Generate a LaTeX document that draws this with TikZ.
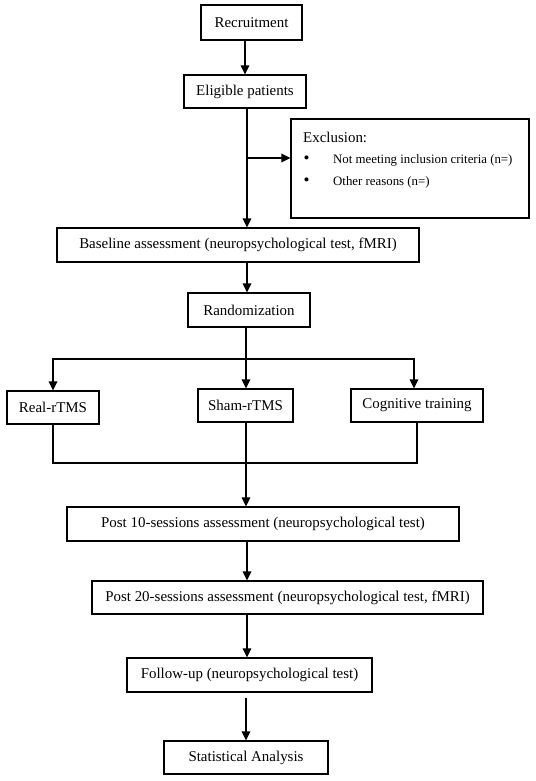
\documentclass[tikz,border=0pt]{standalone}
\usepackage{fontspec}
\setmainfont{Liberation Serif}
\usetikzlibrary{calc,arrows.meta}

\begin{document}
\begin{tikzpicture}[x=1bp, y=-1bp,
		box/.style={draw, line width=1.2pt, inner sep=0pt, minimum height=34bp, font=\fontsize{15}{17}\selectfont},
		arr/.style={line width=1.3pt, -{Triangle[length=9bp,width=8.5bp]}},
		ln/.style={line width=1.3pt}]
			%%%%% START %%%%%
			\useasboundingbox (0, 0) rectangle (536, 781);
			\coordinate (col) at (247, 0);
			
			\node[box, minimum width=101bp, minimum height=35bp] (rec) at (251.5, 22.5) {Recruitment};
			\node[box, minimum width=122bp, minimum height=33bp] (elig) at (245, 91.5) {Eligible patients};
			
			% exclusion box
			\node[box, minimum width=238bp, minimum height=99bp] (excl) at (410, 168.5) {};
			\node[anchor=west, inner sep=0pt, font=\fontsize{15}{17}\selectfont] (exhead) at (303, 137) {Exclusion:};
			\node[anchor=center, inner sep=0pt, font=\fontsize{17}{19}\selectfont] (bul1) at (306.5, 160) {•};
			\node[anchor=west, inner sep=0pt, font=\fontsize{12.9}{15}\selectfont] (ex1) at (333, 160) {Not meeting inclusion criteria (n=)};
			\node[anchor=center, inner sep=0pt, font=\fontsize{17}{19}\selectfont] (bul2) at (306.5, 182) {•};
			\node[anchor=west, inner sep=0pt, font=\fontsize{12.9}{15}\selectfont] (ex2) at (333, 182) {Other reasons (n=)};
			
			\node[box, minimum width=362bp] (base) at (238, 245) {Baseline assessment (neuropsychological test, fMRI)};
			\node[box, minimum width=122bp] (rand) at (249, 310) {Randomization};
			
			% three arms
			\node[box, minimum width=92bp, minimum height=33bp] (real) at (53, 407.5) {Real-rTMS};
			\node[box, minimum width=95bp, minimum height=33bp] (sham) at (245.5, 405.5) {Sham-rTMS};
			\node[box, minimum width=132bp, minimum height=33bp] (cog) at (417, 405.5) {Cognitive training};
			
			\node[box, minimum width=392bp] (post10) at (263, 524) {Post 10-sessions assessment (neuropsychological test)};
			\node[box, minimum width=391bp, minimum height=33bp] (post20) at (287.5, 597.5) {Post 20-sessions assessment (neuropsychological test, fMRI)};
			\node[box, minimum width=245bp] (fol) at (249.5, 675) {Follow-up (neuropsychological test)};
			\node[box, minimum width=164bp, minimum height=33bp] (stat) at (246, 757.5) {Statistical Analysis};
			
			% connectors
			\draw[arr] (rec.south -| elig.north) -- (elig.north);
			\draw[arr] (elig.south -| col) -- (base.north -| col);
			\coordinate (brk) at (247, 158);
			\draw[arr] (brk) -- (brk -| excl.west);
			\draw[arr] (base.south -| col) -- (rand.north -| col);
			
			\coordinate (split) at (246, 359);
			\draw[ln] (rand.south -| split) -- (split);
			\draw[arr] (split) -- (sham.north -| split);
			\draw[arr] (split) -| (real.north);
			\draw[arr] (split) -| ($(cog.north)+(-3,0)$);
			
			\coordinate (join) at (246, 463);
			\draw[ln] (real.south) |- (join);
			\draw[ln] (cog.south) |- (join);
			\draw[arr] (sham.south -| join) -- (post10.north -| join);
			
			\draw[arr] (post10.south -| col) -- (post20.north -| col);
			\draw[arr] (post20.south -| col) -- (fol.north -| col);
			\draw[arr, shorten <=5bp] (fol.south -| stat.north) -- (stat.north);
			%%%%% END %%%%%
		\end{tikzpicture}
\end{document}
